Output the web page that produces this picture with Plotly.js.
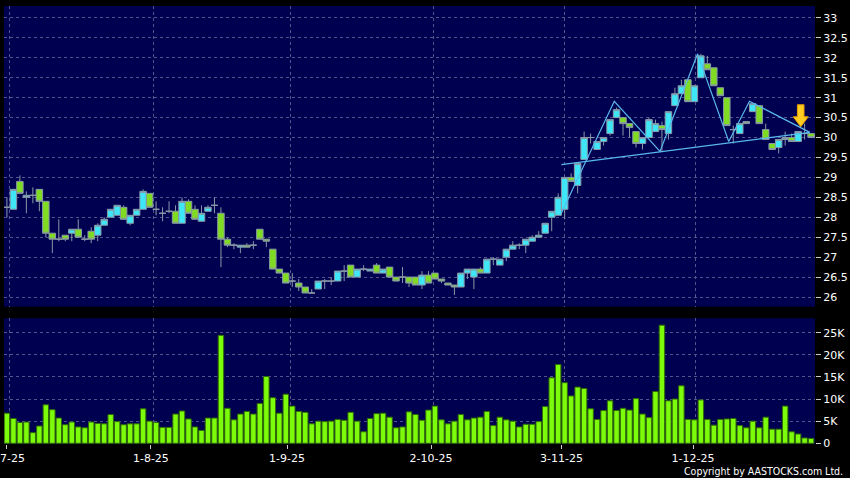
<!DOCTYPE html>
<html>
<head>
<meta charset="utf-8">
<script src="https://cdn.plot.ly/plotly-3.0.1.min.js"></script>
<style>
  html, body { margin: 0; padding: 0; background: #000; }
  #chart { width: 850px; height: 478px; }
</style>
</head>
<body>
<div id="chart"></div>
<script>
// ---- Data ----
const openP = [28.25,28.20,28.90,28.50,28.55,28.70,28.40,27.60,27.45,27.55,
  27.60,27.70,27.45,27.65,27.55,27.80,28.00,28.05,28.25,27.85,
  28.05,28.20,28.60,28.20,28.10,28.15,28.15,27.85,28.40,28.20,
  27.90,28.15,28.30,28.10,27.45,27.30,27.25,27.30,27.30,27.70,
  27.45,27.20,26.70,26.60,26.40,26.35,26.25,26.10,26.20,26.40,
  26.40,26.40,26.65,26.80,26.50,26.70,26.65,26.80,26.60,26.75,
  26.50,26.50,26.50,26.50,26.30,26.55,26.60,26.45,26.35,26.30,
  26.25,26.60,26.50,26.70,26.60,26.95,26.80,27.00,27.20,27.30,
  27.30,27.40,27.50,27.60,28.00,28.05,28.20,29.00,28.80,29.45,
  30.00,29.70,29.90,30.10,30.50,30.50,30.35,30.15,29.85,30.00,
  30.15,30.30,30.10,30.80,31.10,31.45,30.90,31.50,31.85,31.75,
  31.25,31.00,30.20,30.10,30.40,30.65,30.80,30.20,29.85,29.75,
  29.95,30.00,29.90,30.10,30.10];
const highP = [28.50,28.70,29.05,28.65,28.75,28.70,28.40,27.60,27.95,27.55,
  27.70,27.95,27.55,27.75,27.85,28.00,28.20,28.30,28.30,28.05,
  28.20,28.70,28.60,28.40,28.25,28.40,28.30,28.50,28.45,28.30,
  28.30,28.30,28.50,28.25,27.50,27.35,27.30,27.35,27.40,27.70,
  27.45,27.20,26.70,26.60,26.60,26.45,26.25,26.20,26.40,26.45,
  26.50,26.65,26.80,26.80,26.70,26.80,26.70,26.85,26.70,26.75,
  26.50,26.75,26.50,26.50,26.65,26.65,26.60,26.45,26.35,26.30,
  26.60,26.70,26.70,26.75,26.95,27.00,26.95,27.20,27.40,27.35,
  27.45,27.55,27.65,27.85,28.15,28.60,29.00,29.10,29.35,30.15,
  30.10,29.90,30.00,30.45,30.75,30.50,30.35,30.15,30.00,30.50,
  30.45,30.40,30.65,31.25,31.45,31.45,31.30,32.10,32.05,31.75,
  31.25,31.00,30.30,30.35,30.40,30.85,30.80,30.35,29.85,29.95,
  30.15,30.10,30.15,30.35,30.10];
const lowP = [28.00,28.20,28.60,28.10,28.35,28.15,27.50,27.10,27.40,27.40,
  27.40,27.50,27.40,27.35,27.40,27.80,28.00,28.05,27.95,27.80,
  28.05,28.20,28.25,28.05,27.90,28.10,27.85,27.85,28.10,27.95,
  27.90,28.15,28.10,26.75,27.25,27.20,27.10,27.25,27.20,27.45,
  27.25,26.70,26.60,26.35,26.25,26.15,26.10,26.10,26.20,26.20,
  26.30,26.40,26.40,26.50,26.50,26.65,26.65,26.60,26.60,26.50,
  26.40,26.35,26.25,26.30,26.20,26.35,26.45,26.35,26.30,26.05,
  26.25,26.45,26.20,26.60,26.60,26.80,26.80,26.90,27.20,27.20,
  27.10,27.40,27.50,27.60,27.65,28.05,27.95,28.90,28.60,29.45,
  29.85,29.70,29.80,30.05,30.50,30.05,30.00,29.75,29.70,30.00,
  30.15,29.65,29.95,30.80,31.10,30.90,30.90,31.50,31.70,31.30,
  31.05,30.30,29.85,30.10,30.35,30.65,30.35,29.95,29.70,29.60,
  29.80,29.90,29.90,29.95,30.00];
const closeP = [28.25,28.70,28.60,28.55,28.55,28.40,27.60,27.45,27.45,27.45,
  27.70,27.50,27.45,27.45,27.80,27.95,28.20,28.30,27.95,28.05,
  28.20,28.65,28.25,28.20,28.10,28.15,27.85,28.40,28.10,27.95,
  28.10,28.25,28.30,27.45,27.30,27.30,27.30,27.25,27.30,27.45,
  27.40,26.70,26.60,26.35,26.40,26.25,26.10,26.10,26.40,26.40,
  26.40,26.65,26.65,26.50,26.70,26.70,26.70,26.60,26.70,26.50,
  26.40,26.50,26.35,26.30,26.55,26.35,26.45,26.40,26.30,26.25,
  26.60,26.70,26.70,26.60,26.95,26.95,26.95,27.20,27.30,27.30,
  27.45,27.50,27.55,27.85,28.15,28.50,29.00,28.90,29.35,30.00,
  30.00,29.90,30.00,30.45,30.70,30.35,30.25,29.85,30.00,30.45,
  30.35,30.20,30.65,31.10,31.30,30.90,31.30,32.05,31.70,31.30,
  31.05,30.30,30.20,30.35,30.35,30.85,30.35,29.95,29.70,29.95,
  30.00,29.90,30.15,30.10,30.00];
// volume in thousands of shares
const volumeK = [6.8,5.6,4.7,4.8,2.4,3.9,8.7,7.6,5.7,4.2,
  4.8,3.7,3.5,4.8,4.5,4.4,6.5,4.9,4.2,4.4,
  4.4,7.8,5.0,4.7,3.6,3.6,6.6,7.3,5.5,3.7,
  2.9,5.7,5.7,24.4,7.9,5.3,6.6,7.2,6.6,9.0,
  15.1,10.3,6.8,11.1,8.4,7.2,7.0,4.4,5.0,4.9,
  5.0,5.4,5.2,7.0,5.0,2.6,5.6,6.7,6.8,5.9,
  3.5,3.7,7.1,6.5,5.2,
  7.5,8.4,5.3,4.4,5.0,6.5,5.3,5.7,5.9,7.2,
  4.0,5.9,5.3,5.0,3.7,4.3,4.3,4.9,8.3,14.8,
  17.8,13.7,10.7,12.7,12.4,7.8,5.4,7.4,9.6,7.4,
  7.9,7.5,10.1,6.6,5.8,11.7,26.7,9.6,10.0,13.0,
  5.4,5.3,9.8,5.4,4.1,5.4,5.5,5.6,4.0,3.5,
  5.0,3.5,5.9,3.2,3.2,8.4,2.6,2.1,1.2,1.1];

// session index of each bar
const barIdx = openP.map((_, i) => i);

// date tick labels (positions are session indexes)
const tickIdx = [0, 22.2, 43.2, 65.4, 85.5, 105.8];
const tickLabels = ['2-7-25', '1-8-25', '1-9-25', '2-10-25', '3-11-25', '1-12-25'];
// vertical grid lines sit half a session after each date tick
const gridIdx = tickIdx.map(v => v + 0.45);

// volume axis ticks
const volTickVals = [0, 5000, 10000, 15000, 20000, 25000];
const volTickText = ['0', '5K', '10K', '15K', '20K', '25K'];

// drawn chart pattern (head & shoulders) : session index / price
const zigIdx = [85.5, 93.65, 100.7, 106.5, 111.3, 114.5, 123.8];
const zigPrice = [28.11, 30.91, 29.65, 32.10, 29.90, 30.91, 30.13];
const neckIdx = [85.5, 123.8];
const neckPrice = [29.32, 30.13];

// marker arrow location (session index, price at tip)
const arrowIdx = 122.4;
const arrowPrice = 30.27;

// ---- Styles ----
const FONT = 'DejaVu Sans, sans-serif';
const GRID = '#55558c';
const CYAN = '#3ee6f8';
const GREEN = '#80dc22';
const WICK = '#8898a6';

const traces = [
  {
    type: 'candlestick',
    x: barIdx, open: openP, high: highP, low: lowP, close: closeP,
    xaxis: 'x', yaxis: 'y',
    increasing: { fillcolor: CYAN, line: { color: WICK, width: 1 } },
    decreasing: { fillcolor: GREEN, line: { color: WICK, width: 1 } },
    whiskerwidth: 0,
    hoverinfo: 'skip',
    showlegend: false
  },
  {
    type: 'scatter', mode: 'lines',
    x: neckIdx, y: neckPrice, xaxis: 'x', yaxis: 'y',
    line: { color: '#5ab8ec', width: 1.2 },
    hoverinfo: 'skip', showlegend: false
  },
  {
    type: 'scatter', mode: 'lines',
    x: zigIdx, y: zigPrice, xaxis: 'x', yaxis: 'y',
    line: { color: '#5ab8ec', width: 1.2 },
    hoverinfo: 'skip', showlegend: false
  },
  {
    type: 'bar',
    x: barIdx, y: volumeK.map(v => v * 1000),
    xaxis: 'x', yaxis: 'y2',
    marker: { color: '#7cfc0a', line: { color: '#2f6a06', width: 1 } },
    hoverinfo: 'skip', showlegend: false
  }
];

const gridStyle = { gridcolor: GRID, gridwidth: 1, griddash: '3px,3px' };

const layout = {
  width: 850, height: 478,
  margin: { l: 4, r: 35, t: 6, b: 34, pad: 0 },
  paper_bgcolor: '#000000',
  plot_bgcolor: '#000050',
  font: { family: FONT, size: 11, color: '#ffffff' },
  showlegend: false,
  boxgap: 0,
  boxgroupgap: 0,
  bargap: 0.16,
  xaxis: {
    type: 'linear',
    range: [-0.45, 124.6],
    anchor: 'y2',
    tickvals: tickIdx, ticktext: tickLabels,
    ticks: 'outside', ticklen: 4, tickcolor: '#cccccc', tickwidth: 1,
    ticklabeloverflow: 'allow',
    showgrid: false,
    minor: Object.assign({ tickvals: gridIdx, showgrid: true, ticks: '' }, gridStyle),
    zeroline: false, showline: false,
    tickfont: { family: FONT, size: 11, color: '#ffffff' },
    rangeslider: { visible: false },
    fixedrange: true
  },
  yaxis: Object.assign({
    domain: [0.3135, 1],
    range: [25.757, 33.30],
    side: 'right',
    tick0: 26, dtick: 0.5,
    ticks: 'outside', ticklen: 5, tickcolor: '#cccccc', tickwidth: 1,
    showgrid: true,
    zeroline: false, showline: false,
    tickfont: { family: FONT, size: 11, color: '#ffffff' },
    fixedrange: true
  }, gridStyle),
  yaxis2: Object.assign({
    domain: [0, 0.287],
    range: [-160, 28250],
    side: 'right',
    tickvals: volTickVals, ticktext: volTickText,
    ticks: 'outside', ticklen: 5, tickcolor: '#cccccc', tickwidth: 1,
    showgrid: true,
    zeroline: false, showline: false,
    tickfont: { family: FONT, size: 11, color: '#ffffff' },
    fixedrange: true
  }, gridStyle),
  shapes: [
    {
      type: 'path',
      xref: 'x', yref: 'y',
      xsizemode: 'pixel', ysizemode: 'pixel',
      xanchor: arrowIdx, yanchor: arrowPrice,
      path: 'M0,0 L-7.5,10 L-3.3,10 L-3.3,22 L3.3,22 L3.3,10 L7.5,10 Z',
      fillcolor: '#ffcc22',
      line: { color: '#e8a000', width: 1 },
      layer: 'above'
    }
  ],
  annotations: [
    {
      text: 'Copyright by AASTOCKS.com Ltd.',
      xref: 'paper', yref: 'paper',
      x: 1.037, y: -0.0616,
      xanchor: 'right', yanchor: 'middle',
      showarrow: false,
      font: { family: 'DejaVu Sans Condensed, DejaVu Sans, sans-serif', size: 10.5, color: '#ffffff' }
    }
  ]
};

Plotly.newPlot('chart', traces, layout, { staticPlot: true, displayModeBar: false });
</script>
</body>
</html>
